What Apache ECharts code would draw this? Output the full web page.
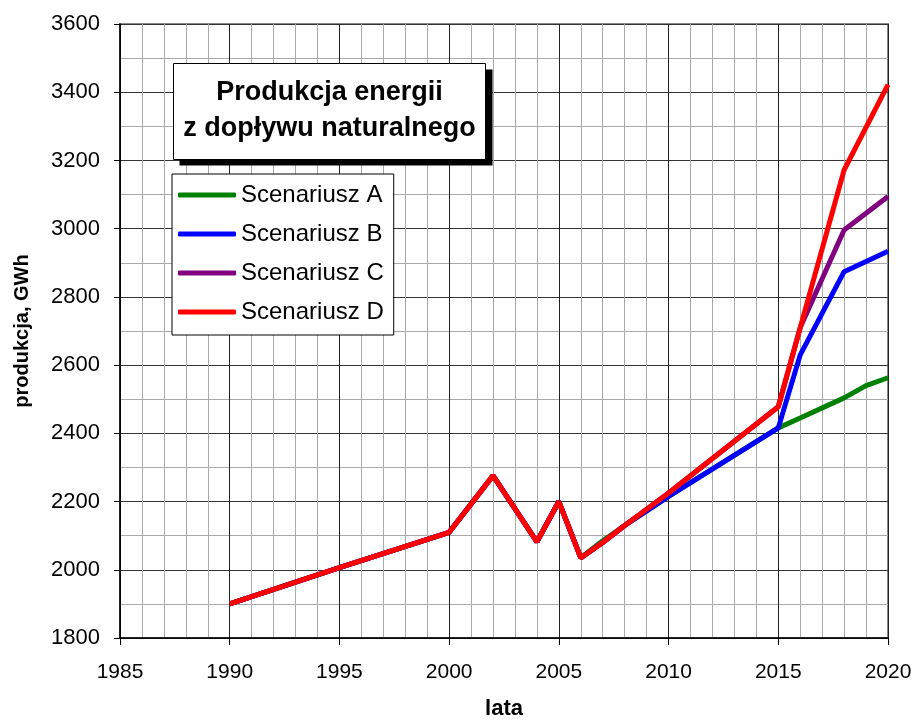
<!DOCTYPE html>
<html>
<head>
    <meta charset="utf-8">
    <title>Produkcja energii</title>
    <script src="https://cdn.jsdelivr.net/npm/echarts@6/dist/echarts.min.js"></script>
</head>
<body style="margin:0">
    <div id="main" style="width: 918px;height:722px;"></div>
    <script type="text/javascript">
        var chartDom = document.getElementById('main');
        var myChart = echarts.init(chartDom);
        var option;

        // lata / produkcja [GWh]
        var seriesNames = ['Scenariusz A', 'Scenariusz B', 'Scenariusz C', 'Scenariusz D'];
        var seriesColors = ['#008000', '#0000ff', '#800080', '#ff0000'];

        var histData = [
            [1990, 1900], [1995, 2006], [2000, 2110], [2002, 2276],
            [2004, 2082], [2005, 2200], [2006, 2035]
        ];
        var scenA = [
            [2007, 2085], [2008, 2130], [2010, 2215], [2015, 2416],
            [2016, 2445], [2018, 2504], [2019, 2540], [2020, 2563]
        ];
        var scenB = [
            [2007, 2080], [2008, 2130], [2010, 2215], [2015, 2416],
            [2016, 2630], [2018, 2874], [2020, 2934]
        ];
        var scenC = [
            [2007, 2080], [2008, 2130], [2010, 2225], [2015, 2478],
            [2016, 2710], [2018, 2996], [2020, 3094]
        ];
        var scenD = [
            [2007, 2080], [2008, 2130], [2010, 2225], [2015, 2478],
            [2016, 2710], [2018, 3172], [2020, 3422]
        ];
        var scenarios = [scenA, scenB, scenC, scenD];

        var series = scenarios.map(function (s, i) {
            return {
                type: 'line',
                name: seriesNames[i],
                data: histData.concat(s),
                symbol: 'none',
                color: seriesColors[i],
                lineStyle: { width: 5, color: seriesColors[i] },
                z: 2 + i
            };
        });

        option = {
            animation: false,
            backgroundColor: '#fff',
            textStyle: { fontFamily: 'Liberation Sans, Arial, sans-serif' },
            grid: {
                left: 120, right: 30, top: 24, bottom: 84,
                outerBoundsMode: 'none',
                show: true, borderColor: '#888', borderWidth: 2
            },
            legend: {
                data: seriesNames,
                orient: 'vertical',
                left: 172, top: 174,
                z: 20,
                backgroundColor: '#fff',
                borderColor: '#000',
                borderWidth: 1,
                padding: [9, 10, 11, 6],
                icon: 'roundRect',
                itemWidth: 58,
                itemHeight: 5,
                itemGap: 15,
                textStyle: { fontSize: 24, color: '#000' }
            },
            xAxis: {
                type: 'value',
                min: 1985, max: 2020, interval: 5,
                name: 'lata',
                nameLocation: 'middle',
                nameGap: 60,
                nameTextStyle: { fontSize: 22, fontWeight: 'bold', color: '#000' },
                axisLine: { lineStyle: { color: '#000', width: 1.5 } },
                axisTick: { show: true, length: 7, lineStyle: { color: '#000' } },
                axisLabel: {
                    fontSize: 21, color: '#000', margin: 24,
                    formatter: function (v) { return String(v); }
                },
                splitLine: { show: true, lineStyle: { color: '#222', width: 1 } },
                minorTick: { show: false, splitNumber: 5 },
                minorSplitLine: { show: true, lineStyle: { color: '#aaa', width: 1 } }
            },
            yAxis: {
                type: 'value',
                min: 1800, max: 3600, interval: 200,
                name: 'produkcja, GWh',
                nameLocation: 'middle',
                nameGap: 88,
                nameTextStyle: { fontSize: 20, fontWeight: 'bold', color: '#000' },
                axisLine: { show: true, lineStyle: { color: '#000', width: 1.5 } },
                axisTick: { show: true, length: 6, lineStyle: { color: '#000' } },
                axisLabel: {
                    fontSize: 22, color: '#000', margin: 20,
                    formatter: function (v) { return String(v); }
                },
                splitLine: { show: true, lineStyle: { color: '#333', width: 1 } },
                minorTick: { show: false, splitNumber: 2 },
                minorSplitLine: { show: true, lineStyle: { color: '#aaa', width: 1 } }
            },
            graphic: [{
                type: 'group',
                left: 173, top: 63,
                children: [{
                    type: 'rect', z: 100,
                    shape: { x: 6, y: 6, width: 313, height: 96 },
                    style: { fill: '#000' }
                }, {
                    type: 'rect', z: 101,
                    shape: { x: 0, y: 0, width: 312, height: 96 },
                    style: { fill: '#fff', stroke: '#000', lineWidth: 1 }
                }, {
                    type: 'text', z: 102,
                    x: 156, y: 47,
                    style: {
                        text: 'Produkcja energii\nz dopływu naturalnego',
                        fontSize: 27, fontWeight: 'bold', lineHeight: 36,
                        fontFamily: 'Liberation Sans, Arial, sans-serif',
                        fill: '#000', align: 'center', verticalAlign: 'middle'
                    }
                }]
            }],
            series: series
        };

        option && myChart.setOption(option);
    </script>
</body>
</html>
